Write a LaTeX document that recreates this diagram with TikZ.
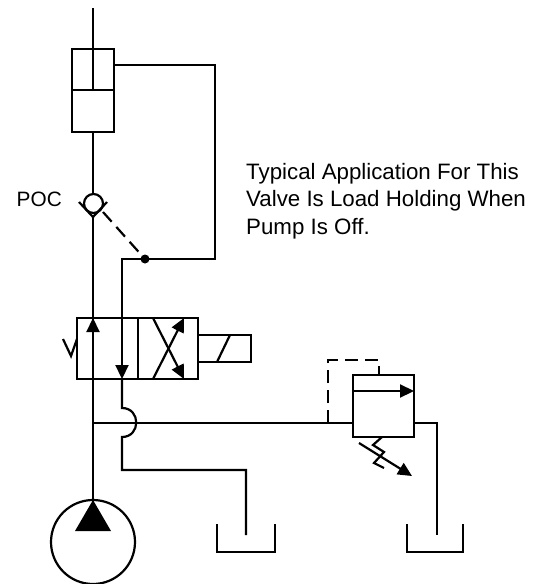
\documentclass[tikz,border=0pt]{standalone}
\usepackage{fontspec}
\setmainfont{Liberation Sans}
\usetikzlibrary{arrows.meta}
\tikzset{
    pipe/.style={line width=2.2pt, line join=miter},
    pilot/.style={line width=2.2pt, dash pattern=on 13pt off 7pt},
    flow/.style={pipe, -{Triangle[length=14pt, width=13pt]}},
    label/.style={font=\fontsize{22.3}{27.5}\selectfont, inner sep=0pt}
}
\begin{document}
\begin{tikzpicture}[x=1pt, y=-1pt]
        \useasboundingbox (0, 0) rectangle (540, 584);

        % cylinder
        \draw[pipe] (72, 49) rectangle (114, 132);
        \draw[pipe] (72, 90) -- (114, 90);
        \draw[pipe] (93, 8) -- (93, 90);
        \draw[pipe] (93, 132) -- (93, 194);
        \draw[pipe] (114, 65) -- (215, 65) -- (215, 259) -- (122, 259) -- (122, 366);

        % check valve
        \draw[pipe] (93.5, 203.5) circle (9.5);
        \draw[pipe] (79, 202) -- (93, 217) -- (107, 202);
        \draw[pilot] (103, 212) -- (145, 259);
        \fill (145, 259) circle (4.5);
        \node[label, font=\fontsize{20.8}{25}\selectfont, anchor=east] (poc) at (62, 199.5) {POC};

        % directional valve
        \draw[pipe] (77, 318) rectangle (198, 379);
        \draw[pipe] (138, 318) -- (138, 379);
        \draw[flow] (93, 379) -- (93, 318);
        \draw[flow] (122, 330) -- (122, 379);
        \draw[flow] (153, 318) -- (184, 379);
        \draw[flow] (153, 379) -- (184, 318);
        \draw[pipe] (198, 335) -- (251, 335) -- (251, 362) -- (198, 362);
        \draw[pipe] (217, 362) -- (230, 335);
        \draw[pipe] (63, 339) -- (71, 356) -- (77, 339);

        % pump
        \draw[pipe] (93, 217) -- (93, 505);
        \draw[pipe] (93, 542) circle (42);
        \fill (93, 500) -- (111, 531) -- (75, 531) -- cycle;

        % lines to the relief valve and the tank
        \draw[pipe] (93, 423) -- (353, 423);
        \draw[pipe] (122, 379) -- (122, 408) .. controls (141, 408) and (141, 437) .. (122, 437)
        -- (122, 470) -- (246, 470) -- (246, 535);
        \draw[pipe] (217, 524) -- (217, 552) -- (275, 552) -- (275, 524);

        % relief valve
        \draw[pipe] (353, 375) rectangle (414, 437);
        \draw[flow] (353, 391) -- (414, 391);
        \draw[pilot] (328, 423) -- (328, 360) -- (379, 360) -- (379, 375);
        \draw[pipe] (382, 437) -- (373, 445) -- (384, 452) -- (374, 463) -- (384, 468);
        \draw[flow] (359, 443) -- (412, 476);
        \draw[pipe] (414, 423) -- (437, 423) -- (437, 535);
        \draw[pipe] (407, 524) -- (407, 552) -- (463, 552) -- (463, 524);

        \node[label, anchor=base west, align=left] (note) at (246, 234) {Typical Application For This\\
        Valve Is Load Holding When\\ Pump Is Off.};
\end{tikzpicture}
\end{document}
